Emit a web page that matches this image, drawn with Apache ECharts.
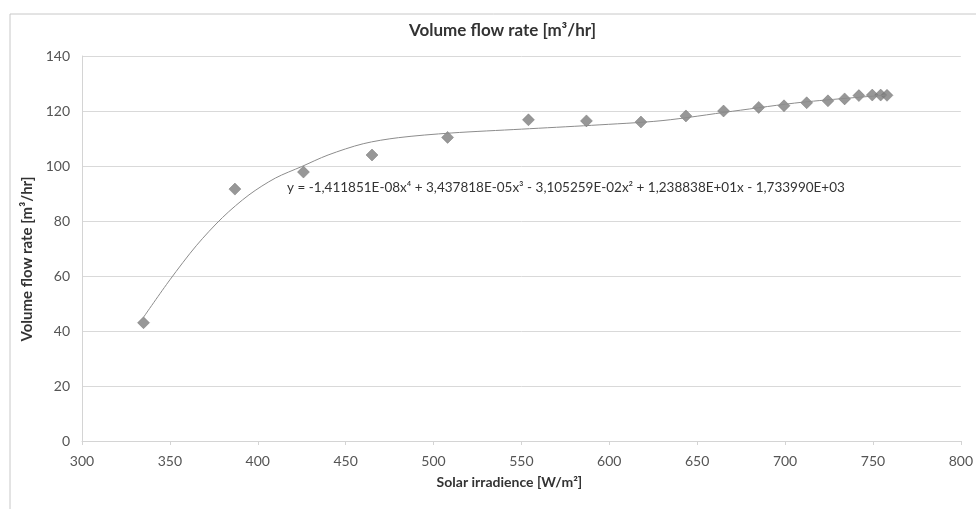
<!DOCTYPE html>
<html>
<head>
<meta charset="utf-8">
<script src="https://cdn.jsdelivr.net/npm/echarts@6/dist/echarts.min.js"></script>
<style>
  * { margin: 0; padding: 0; }
  html, body { background: #fff; }
  #main { width: 976px; height: 509px; }
</style>
</head>
<body>
<!-- chart container -->
<div id="main"></div>
<script>
// measured points: solar irradiance [W/m2] and flow rate [m3/hr]
var irradiance = [335, 387, 426, 465, 508, 554, 587, 618, 643.6, 665, 685, 699.4, 712.3, 724.4, 733.9, 742, 749.6, 754.4, 758];
var flowRate   = [43, 91.6, 97.8, 104, 110.4, 116.8, 116.4, 116, 118.2, 120, 121.3, 121.9, 123, 123.7, 124.4, 125.6, 125.8, 125.8, 125.7];

// trendline
var trendX = [335, 350, 365, 380, 395, 410, 425, 440, 460, 480, 510, 550, 590, 630, 670, 710, 758];
var trendY = [45, 58.6, 71, 81.3, 89.5, 95.6, 99.8, 104, 108.1, 110.3, 112, 113.4, 114.8, 116.5, 119.9, 123.2, 125.8];

var equation = 'y = -1,411851E-08x\u2074 + 3,437818E-05x\u00b3 - 3,105259E-02x\u00b2 + 1,238838E+01x - 1,733990E+03';

var fontName = 'Lato, "Open Sans", sans-serif';

function pairs(xs, ys) {
    var out = [];
    for (var i = 0; i < xs.length; i++) out.push([xs[i], ys[i]]);
    return out;
}

var chart = echarts.init(document.getElementById('main'));
chart.setOption({
    animation: false,
    textStyle: { fontFamily: fontName },
    title: {
        text: 'Volume flow rate [m\u00b3/hr]',
        left: 409,
        top: 22,
        padding: 0,
        textStyle: { fontFamily: fontName, fontSize: 17, fontWeight: 'bold', color: '#333' }
    },
    grid: { left: 82, right: 13, top: 56, bottom: 68 },
    xAxis: {
        type: 'value',
        min: 300,
        max: 800,
        interval: 50,
        name: 'Solar irradience [W/m\u00b2]',
        nameLocation: 'middle',
        nameGap: 34,
        nameTextStyle: { fontSize: 14, fontWeight: 'bold', color: '#333', padding: [0, 24, 0, 0] },
        axisLine: { show: true, onZero: false, lineStyle: { color: '#d4d4d4' } },
        axisTick: { show: true, length: 4, lineStyle: { color: '#d4d4d4' } },
        axisLabel: { fontSize: 14, color: '#555', margin: 13 },
        splitLine: { show: false }
    },
    yAxis: {
        type: 'value',
        min: 0,
        max: 140,
        interval: 20,
        name: 'Volume flow rate [m\u00b3/hr]',
        nameLocation: 'middle',
        nameGap: 42,
        nameTextStyle: { fontSize: 15, fontWeight: 'bold', color: '#333', padding: [0, 21, 0, 0] },
        axisLine: { show: true, lineStyle: { color: '#d4d4d4' } },
        axisTick: { show: false },
        axisLabel: { fontSize: 14, color: '#555', margin: 12 },
        splitLine: { show: true, lineStyle: { color: '#d9d9d9' } }
    },
    graphic: [
        {
            type: 'rect',
            shape: { x: 10, y: 14, width: 1000, height: 520 },
            style: { fill: 'none', stroke: '#c8c8c8', lineWidth: 1 },
            silent: true
        },
        {
            type: 'text',
            left: 287,
            top: 181,
            style: { text: equation, fontFamily: fontName, fontSize: 13.5, fill: '#333' }
        }
    ],
    series: [
        {
            name: 'Volume flow rate',
            type: 'scatter',
            symbol: 'diamond',
            symbolSize: 12,
            itemStyle: { color: '#7d7d7d', borderColor: '#666', borderWidth: 0.5 },
            data: pairs(irradiance, flowRate),
            z: 2
        },
        {
            name: 'Trend',
            type: 'line',
            smooth: 0.3,
            showSymbol: false,
            lineStyle: { color: '#8c8c8c', width: 1 },
            data: pairs(trendX, trendY),
            z: 3
        }
    ]
});
</script>
</body>
</html>
